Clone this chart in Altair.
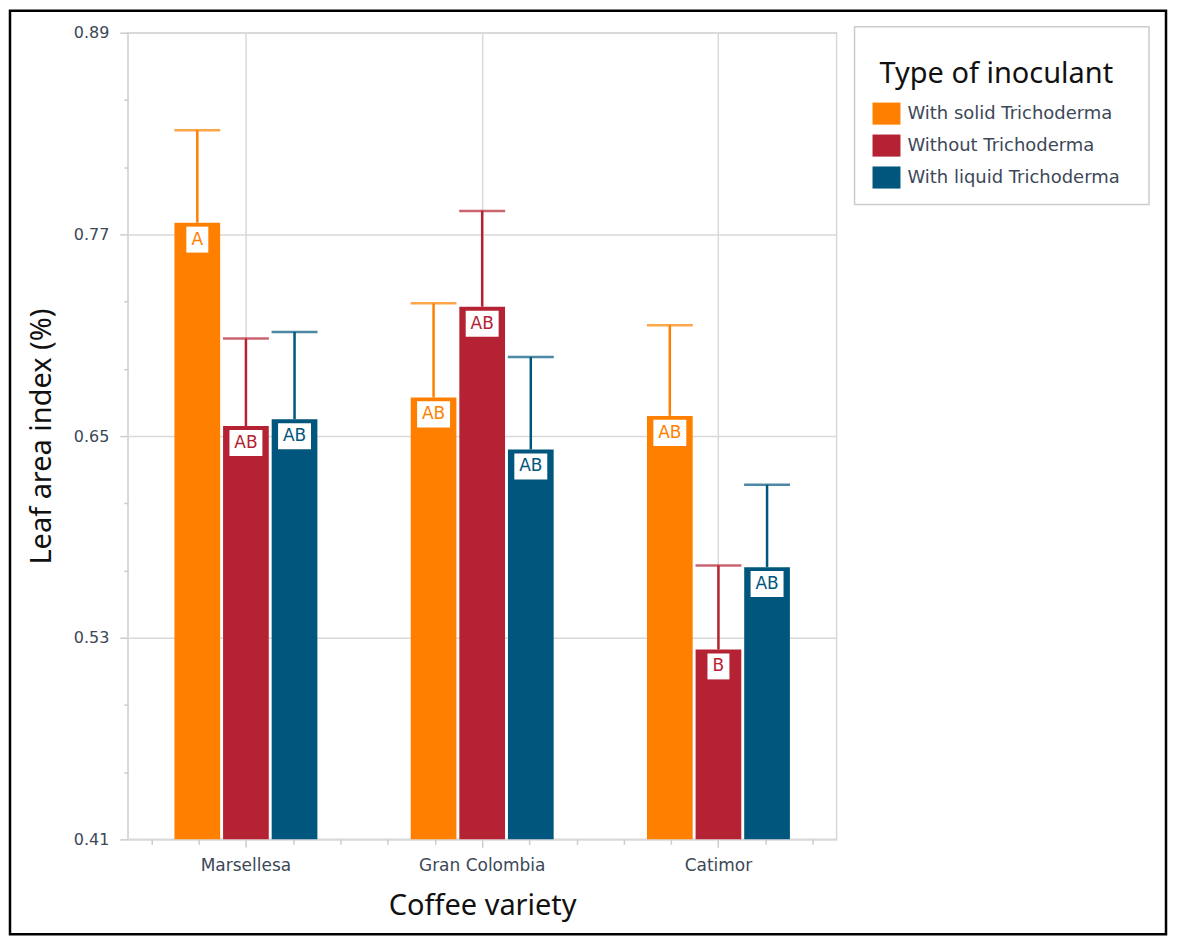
import altair as alt
import pandas as pd

varieties = ["Marsellesa", "Gran Colombia", "Catimor"]
inoculants = ["With solid Trichoderma", "Without Trichoderma", "With liquid Trichoderma"]
colors = ["#FF8000", "#B52234", "#00567C"]

mean_solid = [0.777, 0.673, 0.662]
mean_without = [0.656, 0.727, 0.523]
mean_liquid = [0.660, 0.642, 0.572]
upper_solid = [0.832, 0.729, 0.716]
upper_without = [0.708, 0.784, 0.573]
upper_liquid = [0.712, 0.697, 0.621]
letters_solid = ["A", "AB", "AB"]
letters_without = ["AB", "AB", "B"]
letters_liquid = ["AB", "AB", "AB"]

y_ticks = [0.41, 0.53, 0.65, 0.77, 0.89]
y_minor = [0.45, 0.49, 0.57, 0.61, 0.69, 0.73, 0.81, 0.85]
x_minor = [0.5, 1.5, 3.5, 4.5, 5.5, 6.5, 8.5, 9.5, 10.5, 11.5, 13.5, 14.5]

rows = []
for i, v in enumerate(varieties):
    for inoc, means, uppers, lets in [
        (inoculants[0], mean_solid, upper_solid, letters_solid),
        (inoculants[1], mean_without, upper_without, letters_without),
        (inoculants[2], mean_liquid, upper_liquid, letters_liquid),
    ]:
        rows.append({"variety": v, "inoculant": inoc, "mean": means[i],
                     "upper": uppers[i], "letter": lets[i]})
df = pd.DataFrame(rows)

LABEL_COLOR = "#3c4858"
GRID = "#d9d9d9"

x_enc = alt.X("variety:N", sort=varieties,
              scale=alt.Scale(paddingInner=0.395, paddingOuter=0.1975),
              axis=alt.Axis(title="Coffee variety", grid=True, ticks=True, tickSize=8,
                            labelAngle=0, labelFontSize=17, labelFont="DejaVu Sans",
                            labelColor=LABEL_COLOR, labelPadding=10,
                            titleFontSize=29, titleFont="Noto Sans", titleFontWeight="normal",
                            titleColor="#111111", titlePadding=18, orient="bottom"))
xo_enc = alt.XOffset("inoculant:N", sort=inoculants,
                     scale=alt.Scale(paddingInner=0.06, paddingOuter=0))
y_scale = alt.Scale(domain=[0.41, 0.89], zero=False, nice=False)
y_enc = alt.Y("mean:Q", scale=y_scale,
              axis=alt.Axis(values=y_ticks, format=".2f", title="Leaf area index (%)",
                            tickSize=8, labelFontSize=16, labelFont="DejaVu Sans",
                            labelColor=LABEL_COLOR, labelPadding=11,
                            titleFontSize=29, titleFont="Noto Sans", titleFontWeight="normal",
                            titleColor="#111111", titlePadding=17))
color_legend = alt.Color("inoculant:N", sort=inoculants,
                         scale=alt.Scale(domain=inoculants, range=colors),
                         legend=alt.Legend(title="Type of inoculant"))
color_nol = alt.Color("inoculant:N", sort=inoculants,
                      scale=alt.Scale(domain=inoculants, range=colors), legend=None)

base = alt.Chart(df)

bars = base.mark_bar().encode(x=x_enc, xOffset=xo_enc, y=y_enc,
                              y2=alt.Y2(datum=0.41), color=color_legend)
rules = base.mark_rule(strokeWidth=2.5).encode(x=x_enc, xOffset=xo_enc, y="mean:Q",
                                               y2="upper:Q", color=color_nol)
caps = base.mark_tick(thickness=2.5, size=46, orient="horizontal").encode(
    x=x_enc, xOffset=xo_enc, y="upper:Q", color=color_nol)
box_ab = base.transform_filter(alt.datum.letter == "AB").mark_point(
    shape="M-1,-0.79H1V0.79H-1Z", size=1089, filled=True, fill="white",
    opacity=1, strokeWidth=0, yOffset=17).encode(x=x_enc, xOffset=xo_enc, y="mean:Q")
box_single = base.transform_filter(alt.datum.letter != "AB").mark_point(
    shape="M-1,-1.18H1V1.18H-1Z", size=484, filled=True, fill="white",
    opacity=1, strokeWidth=0, yOffset=17).encode(x=x_enc, xOffset=xo_enc, y="mean:Q")
texts = base.mark_text(fontSize=17, font="DejaVu Sans", baseline="middle", align="center",
                       yOffset=17).encode(x=x_enc, xOffset=xo_enc, y="mean:Q",
                                          text="letter:N", color=color_nol)
frame = alt.Data(values=[{}])
border = alt.Chart(frame).mark_rect(
    fillOpacity=0, stroke="black", strokeWidth=2.5).encode(
    x=alt.value(-118), x2=alt.value(1040), y=alt.value(-22), y2=alt.value(903))
legend_box = alt.Chart(frame).mark_rect(
    fill="white", stroke="#cccccc", strokeWidth=1.5).encode(
    x=alt.value(728), x2=alt.value(1023), y=alt.value(-6), y2=alt.value(172))

main = alt.layer(bars, rules, caps, box_ab, box_single, texts, border, legend_box)

minor = alt.Chart(frame).mark_point(opacity=0).encode(
    x=alt.X(datum=0, type="quantitative",
            scale=alt.Scale(domain=[0, 15], nice=False, zero=False),
            axis=alt.Axis(values=x_minor, labels=False, grid=False, domain=False,
                          tickSize=5, tickColor="#cccccc", title="", orient="bottom")),
    y=alt.Y(datum=0.41, type="quantitative",
            axis=alt.Axis(values=y_minor, labels=False, grid=False, domain=False,
                          tickSize=4, tickColor="#cccccc", title="", orient="left")),
)

chart = alt.layer(main, minor).resolve_scale(x="independent").resolve_axis(
    x="independent", y="independent").properties(
    width=710, height=808,
    background="white",
    autosize=alt.AutoSizeParams(type="none"),
    padding={"left": 120, "top": 24, "right": 334, "bottom": 100},
).configure_view(stroke=GRID, strokeWidth=1.5).configure_axis(
    gridColor=GRID, gridWidth=1.5, domainColor=GRID, domainWidth=1.5,
    tickColor="#cccccc", tickWidth=1.5,
).configure_legend(
    orient="none", legendX=746, legendY=27, padding=0,
    titleFontSize=29, titleFont="Noto Sans", titleFontWeight="normal",
    titleColor="#111111", titleAnchor="middle", titlePadding=11, titleLimit=400,
    labelFontSize=18, labelFont="DejaVu Sans", labelColor=LABEL_COLOR, labelLimit=400,
    labelOffset=7, rowPadding=6,
    symbolType="M-1,-0.79H1V0.79H-1Z", symbolSize=784, symbolStrokeWidth=0,
    symbolOpacity=1,
)

chart.save("out.html", embed_options={"renderer": "svg", "actions": False})
